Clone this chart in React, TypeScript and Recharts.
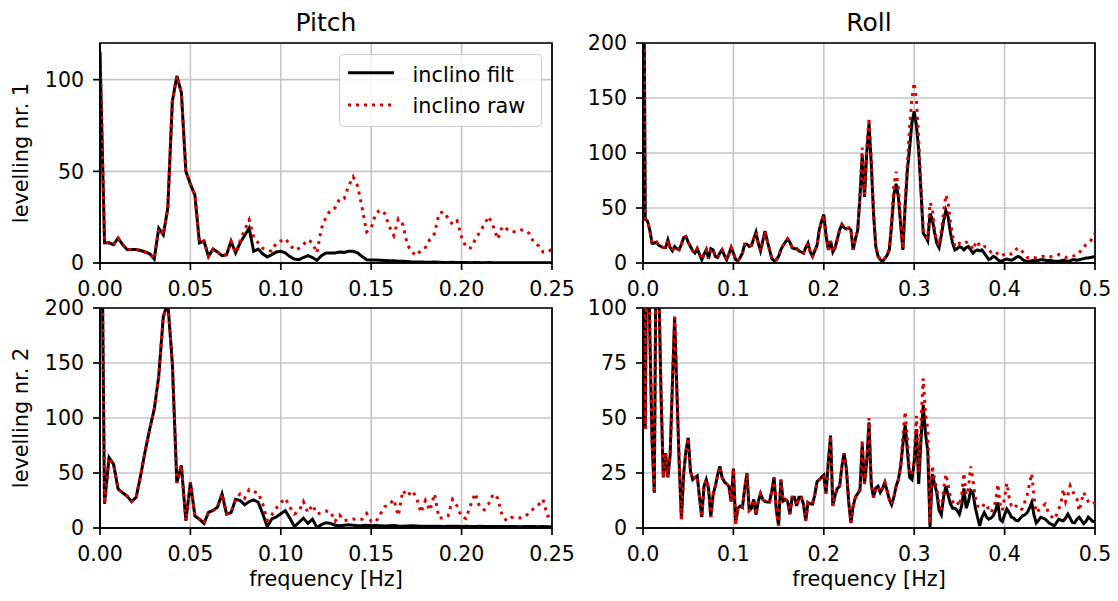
import { useMemo } from 'react';
import { CartesianGrid, Line, LineChart, ReferenceArea, XAxis, YAxis } from 'recharts';

// spectra sampled every DF Hz, value i belongs to f = i * DF
const DF = 0.0025;

// Pitch, levelling nr. 1 (0 .. 0.25 Hz)
const pitch1Filt = [
  115, 11, 11, 10, 13.6, 10, 7.3, 7.3, 7.3, 6.8,
  6, 5, 2.2, 19, 15.4, 30, 88, 102, 93, 50,
  43, 37, 11, 12, 3.6, 7.6, 6, 4, 4.5, 11.8,
  5.5, 11, 15, 19, 6.4, 7.6, 5, 3.3, 4.5, 6,
  6.4, 5.5, 3.5, 2.2, 1.8, 3, 4, 3, 1.5, 4,
  5.5, 5.5, 5.5, 6, 5.8, 6.4, 6.4, 5.5, 3.5, 1.8,
  1.7, 1.6, 1.5, 1.4, 1.2, 1.2, 1, 1, 0.8, 0.6,
  0.5, 0.5, 0.4, 0.4, 0.5, 0.4, 0.3, 0.3, 0.4, 0.3,
  0.3, 0.3, 0.2, 0.3, 0.2, 0.2, 0.3, 0.2, 0.2, 0.2,
  0.2, 0.2, 0.2, 0.1, 0.2, 0.2, 0.1, 0.1, 0.2, 0.1, 0.1,
];
const pitch1Raw = [
  115, 11, 11, 10, 13.6, 10, 7.3, 7.3, 7.3, 6.8,
  6, 5, 2.2, 19, 15.4, 30, 88, 102, 93, 50,
  43, 37, 11, 12, 3.6, 7.6, 6, 4, 4.5, 11.8,
  5.5, 12, 18, 23.6, 14, 11, 8, 7, 6.4, 11,
  12, 13.3, 10, 7, 8, 10, 12.7, 11, 5.5, 19,
  25, 29, 30, 35, 35, 42, 47, 42, 30, 17,
  19, 27, 29, 27, 20, 15, 24, 21, 10, 6,
  4, 7, 8.5, 13, 16, 27, 28, 24.5, 21, 23,
  14, 8.5, 8.2, 12.7, 16.7, 21, 25.4, 20, 13, 20,
  18.5, 17, 17, 18, 18, 16, 11, 9.5, 6, 6, 7.5,
];

// Pitch, levelling nr. 2 (0 .. 0.25 Hz)
const pitch2Filt = [
  450, 22, 64, 58, 35.5, 32, 29, 24, 28, 48,
  70, 90, 108, 138, 192, 205, 150, 41, 57, 6.6,
  41.5, 11, 8, 4.2, 14.2, 16, 19, 31, 12.7, 14,
  26, 25, 21, 24, 25.5, 23.4, 13, 1.2, 8.2, 10,
  13, 15.8, 9, 1.2, 5, 9, 4.2, 8, 0.5, 3,
  4.8, 4.2, 2.5, 2, 2.5, 3, 2.5, 2, 2.2, 2.5,
  2, 2.2, 2, 1.8, 2, 2.2, 1.8, 1.6, 1.8, 2,
  1.8, 1.6, 1.5, 1.7, 1.6, 1.5, 1.4, 1.5, 1.6, 1.5,
  1.4, 1.5, 1.4, 1.3, 1.5, 1.4, 1.3, 1.4, 1.3, 1.4,
  1.3, 1.4, 1.3, 1.2, 1.3, 1.4, 1.3, 1.2, 1.3, 1.2, 1.2,
];
const pitch2Raw = [
  450, 22, 64, 58, 35.5, 32, 29, 24, 28, 48,
  70, 90, 108, 138, 192, 205, 150, 41, 57, 6.6,
  41.5, 11, 8, 4.2, 14.2, 16, 19, 31, 12.7, 14,
  26, 31, 27, 35, 33, 32, 22, 7, 12, 18,
  23, 27, 19, 12.7, 15, 24, 14, 21, 12.7, 14,
  15.5, 15, 6, 11.8, 6.5, 7.5, 8.2, 7.5, 8, 13.3,
  6, 5.5, 12.5, 19.5, 21, 26, 11.2, 34, 29, 34,
  28, 14, 25, 15.8, 31, 9, 9, 11, 26, 20,
  10, 8.5, 21, 31.6, 19, 16.5, 22, 31, 27, 11,
  6.5, 9.6, 9.3, 9.2, 10.2, 14, 18, 21, 26, 11, 11,
];

// Roll, levelling nr. 1 (0 .. 0.5 Hz)
const roll1Filt = [
  420, 40, 38, 30, 18, 18, 19, 16, 15, 14,
  14, 21, 14, 11, 15, 13, 12, 17, 23, 24,
  19, 15, 11, 9, 13, 8, 3, 8, 12, 4,
  13, 12, 6, 5, 9, 12, 7, 3, 8, 14,
  9, 3, 2, 5, 9, 17, 17, 15, 16, 22,
  28, 18, 11, 20, 29, 20, 12, 4, 2, 3,
  6, 12, 16, 19, 22, 19, 14, 13, 13, 11,
  10, 9, 14, 18, 10, 6, 11, 16, 30, 38,
  44, 25, 12, 20, 10, 14, 22, 30, 35, 32,
  31, 32, 30, 12, 22, 30, 60, 98, 60, 100,
  127, 90, 45, 15, 6, 3, 1.5, 4, 7, 12,
  35, 62, 72, 60, 35, 12, 52, 85, 105, 128,
  138, 125, 102, 65, 27, 24, 20, 45, 40, 28,
  18, 14, 25, 38, 48, 42, 28, 18, 12, 13,
  15, 14, 12, 14, 15, 12, 9, 11, 12, 11,
  12, 9, 6, 3, 4, 6, 5, 3, 1.5, 2,
  3, 3.5, 3, 2.5, 3.5, 5, 6, 5, 3, 2,
  1.5, 1.5, 2, 2.5, 2, 2.5, 3, 3, 2.5, 2,
  2.5, 2, 1.5, 1.5, 1.5, 2, 2.5, 2, 1.5, 2,
  3, 3, 2.5, 3, 3.5, 4, 4.5, 4.5, 5, 5.5, 6,
];
const roll1Raw = [
  420, 40, 38, 30, 18, 18, 19, 16, 15, 14,
  14, 21, 14, 11, 15, 13, 12, 17, 23, 24,
  19, 15, 11, 9, 13, 8, 3, 8, 12, 4,
  13, 12, 6, 5, 9, 12, 7, 3, 8, 14,
  9, 3, 2, 5, 9, 17, 17, 15, 16, 22,
  28, 18, 11, 20, 29, 20, 12, 4, 2, 3,
  6, 12, 16, 19, 22, 19, 14, 13, 13, 11,
  10, 9, 14, 18, 10, 6, 11, 16, 30, 38,
  44, 25, 12, 20, 10, 14, 22, 30, 35, 32,
  31, 32, 30, 12, 22, 30, 62, 105, 62, 105,
  132, 95, 48, 16, 7, 3.5, 2, 4.5, 8, 13,
  38, 70, 83, 68, 38, 13, 56, 92, 125, 150,
  164, 148, 112, 70, 30, 26, 22, 55, 50, 30,
  20, 16, 30, 45, 62, 55, 38, 25, 15, 18,
  18, 17, 18, 19, 18, 17, 12, 17, 20, 15,
  14, 15, 14.5, 12, 10, 11, 10.6, 8, 6, 7,
  8, 9, 9, 8, 9, 12, 14, 12, 10, 7,
  5, 4.5, 5, 5, 4.5, 5, 5.5, 6, 5.5, 5,
  5.5, 6, 6.5, 7, 7.6, 7, 6, 5, 5.5, 6,
  6, 6.7, 7, 9, 12, 14, 16.7, 18, 20, 23, 27,
];

// Roll, levelling nr. 2 (0 .. 0.5 Hz)
const roll2Filt = [
  250, 45, 180, 90, 40, 16, 160, 110, 60, 23,
  34, 23, 33, 65, 96, 62, 30, 4, 25, 35,
  41, 26, 22, 23, 23.7, 14, 5, 19, 22, 18,
  5, 15, 19, 24, 28, 23, 21, 20, 19, 12,
  27, 2, 9, 10, 9.4, 18, 25, 8, 9, 13,
  6, 12, 15.6, 13, 12, 11.8, 11.8, 17, 23, 8,
  1, 22, 12.3, 13, 12, 6.3, 14, 14, 10, 14,
  14, 10.9, 3.3, 11.6, 11, 10.9, 15, 21, 22, 23,
  24, 15.6, 30, 42, 10, 15, 18, 19, 28, 34,
  27, 12, 2.3, 10, 14, 15.6, 17, 38, 20, 30,
  48, 20, 13.9, 18, 19, 16.2, 18, 20.7, 17, 13,
  10.6, 14, 19, 22, 28, 38, 47, 35, 23, 22,
  30, 45, 20, 40, 56, 43, 35, 0.5, 24.5, 20,
  16, 8, 6, 14, 19, 15, 11, 9, 9, 8,
  6.3, 10, 18, 9, 12, 17, 16, 9.5, 5, 1,
  5, 7, 5, 4, 4.5, 5.6, 8, 11.6, 4, 3,
  6, 8.6, 7, 5, 4.5, 3.5, 3.3, 4.5, 5.6, 6,
  7, 9, 11.6, 6, 2.3, 3.5, 4.9, 4.5, 4, 3,
  2, 1.5, 1, 2.5, 4, 3.5, 3.3, 4.5, 6.3, 4.5,
  2.5, 2.3, 4, 4.9, 3.5, 2, 3, 4.9, 4, 3, 3,
];
const roll2Raw = [
  250, 45, 180, 90, 40, 16, 160, 110, 60, 23,
  34, 23, 33, 65, 96, 62, 30, 4, 25, 35,
  41, 26, 22, 23, 23.7, 14, 5, 19, 22, 18,
  5, 15, 19, 24, 28, 23, 21, 20, 19, 12,
  27, 2, 9, 10, 9.4, 18, 25, 8, 9, 13,
  6, 12, 15.6, 13, 12, 11.8, 11.8, 17, 23, 8,
  1, 22, 12.3, 13, 12, 6.3, 14, 14, 10, 14,
  14, 10.9, 3.3, 11.6, 11, 10.9, 15, 21, 22, 23,
  24, 15.6, 30, 42, 10, 15, 18, 19, 28, 34,
  27, 12, 2.3, 10, 14, 15.6, 18, 40, 20, 30,
  50, 20, 13.9, 18, 19, 16.2, 18, 20.7, 17, 13,
  10.6, 14, 19, 22, 28, 42, 53, 40, 25, 24,
  32, 51, 25, 48, 68, 52, 45, 2, 28.4, 22,
  18, 10, 9, 17, 24.5, 20, 14, 12, 11, 12,
  10, 15, 25, 15, 18, 28, 22, 14, 10, 9.4,
  9, 11, 10.9, 8, 7, 9, 12, 20, 11, 8,
  14, 20.4, 14, 10, 9, 10, 9.4, 8, 9, 12,
  15, 20, 24.8, 14, 7, 8, 9.4, 10, 10.9, 8,
  6, 5, 4, 6, 8.6, 12, 17.7, 12, 15, 19.2,
  17, 15, 13.3, 7.8, 12, 16.2, 14, 12, 10.9, 11, 11.6,
];

const pitchTicks = [0, 0.05, 0.1, 0.15, 0.2, 0.25];
const rollTicks = [0, 0.1, 0.2, 0.3, 0.4, 0.5];
const yTicks120 = [0, 50, 100];
const yTicks200 = [0, 50, 100, 150, 200];
const yTicks100 = [0, 25, 50, 75, 100];

const FONT = 'DejaVu Sans, sans-serif';
const RED = '#dd0000';
const PLOT_W = 452;
const PLOT_H = 220;
const AXIS_W = 70;
const AXIS_H = 44;
const PAD_T = 20;

const TICK = { fill: '#000', fontSize: 20.5, fontFamily: FONT };
const AXLINE = { stroke: '#000', strokeWidth: 1.7 };

interface PanelProps {
  filt: number[];
  raw: number[];
  xMax: number;
  xTicks: number[];
  xDigits: number;
  yMax: number;
  yTicks: number[];
  left: number;
  top: number;
  padR: number;
}

function Panel({ filt, raw, xMax, xTicks, xDigits, yMax, yTicks, left, top, padR }: PanelProps) {
  const data = useMemo(() => filt.map((v, i) => ({ f: i * DF, filt: v, raw: raw[i] })), [filt, raw]);
  return (
    <div style={{ position: 'absolute', left: left - AXIS_W, top: top - PAD_T }}>
      <LineChart
        width={AXIS_W + PLOT_W + padR}
        height={PAD_T + PLOT_H + AXIS_H}
        data={data}
        margin={{ top: PAD_T, right: padR, bottom: 0, left: 0 }}
      >
        <CartesianGrid stroke="#c6c6c6" strokeWidth={1.6} />
        <XAxis
          dataKey="f"
          type="number"
          domain={[0, xMax]}
          ticks={xTicks}
          interval={0}
          allowDataOverflow
          height={AXIS_H}
          tickSize={7}
          tickMargin={11}
          tick={TICK}
          tickLine={AXLINE}
          axisLine={AXLINE}
          tickFormatter={(v: number) => v.toFixed(xDigits)}
        />
        <YAxis
          type="number"
          domain={[0, yMax]}
          ticks={yTicks}
          interval={0}
          allowDataOverflow
          width={AXIS_W}
          tickSize={7}
          tickMargin={9}
          tick={TICK}
          tickLine={AXLINE}
          axisLine={AXLINE}
        />
        <Line type="linear" dataKey="filt" stroke="#000" strokeWidth={3} dot={false} isAnimationActive={false} />
        <Line
          type="linear"
          dataKey="raw"
          stroke={RED}
          strokeWidth={3}
          strokeDasharray="3 5"
          dot={false}
          isAnimationActive={false}
        />
        <ReferenceArea x1={0} x2={xMax} y1={0} y2={yMax} fill="none" stroke="#000" strokeWidth={1.7} />
      </LineChart>
    </div>
  );
}

function Title({ text, cx }: { text: string; cx: number }) {
  return (
    <div
      style={{
        position: 'absolute', left: cx - 100, top: 7.5, width: 200, textAlign: 'center',
        fontSize: 25, lineHeight: 'normal', fontFamily: FONT, color: '#000',
      }}
    >
      {text}
    </div>
  );
}

function YLabel({ text, cy }: { text: string; cy: number }) {
  return (
    <div
      style={{
        position: 'absolute', left: 21.3 - 150, top: cy - 12, width: 300, height: 24, lineHeight: '24px',
        textAlign: 'center', fontSize: 20.8, fontFamily: FONT, color: '#000',
        transform: 'rotate(-90deg)', transformOrigin: 'center',
      }}
    >
      {text}
    </div>
  );
}

function XLabel({ text, cx }: { text: string; cx: number }) {
  return (
    <div
      style={{
        position: 'absolute', left: cx - 150, top: 566.5, width: 300, textAlign: 'center',
        fontSize: 20.8, lineHeight: 'normal', fontFamily: FONT, color: '#000',
      }}
    >
      {text}
    </div>
  );
}

function LegendBox() {
  return (
    <svg width={206} height={76} style={{ position: 'absolute', left: 339, top: 54 }}>
      <rect x={0.5} y={0.5} width={202} height={72} rx={4} fill="#fff" fillOpacity={0.8} stroke="#cccccc" />
      <line x1={9} x2={55} y1={18.7} y2={18.7} stroke="#000" strokeWidth={3} />
      <line x1={9} x2={55} y1={51} y2={51} stroke={RED} strokeWidth={3} strokeDasharray="3 5" />
      <text x={73.5} y={27.7} fontSize={20.8} fontFamily={FONT} fill="#000">inclino filt</text>
      <text x={73.5} y={59.3} fontSize={20.8} fontFamily={FONT} fill="#000">inclino raw</text>
    </svg>
  );
}

export default function App() {
  return (
    <div style={{ position: 'absolute', left: 0, top: 0, width: 1118, height: 601, background: '#fff', overflow: 'hidden' }}>
      <Panel filt={pitch1Filt} raw={pitch1Raw} xMax={0.25} xTicks={pitchTicks} xDigits={2} yMax={120} yTicks={yTicks120} left={100} top={43} padR={30} />
      <Panel filt={roll1Filt} raw={roll1Raw} xMax={0.5} xTicks={rollTicks} xDigits={1} yMax={200} yTicks={yTicks200} left={643} top={43} padR={20} />
      <Panel filt={pitch2Filt} raw={pitch2Raw} xMax={0.25} xTicks={pitchTicks} xDigits={2} yMax={200} yTicks={yTicks200} left={100} top={308} padR={30} />
      <Panel filt={roll2Filt} raw={roll2Raw} xMax={0.5} xTicks={rollTicks} xDigits={1} yMax={100} yTicks={yTicks100} left={643} top={308} padR={20} />
      <Title text="Pitch" cx={326} />
      <Title text="Roll" cx={869} />
      <YLabel text="levelling nr. 1" cy={153} />
      <YLabel text="levelling nr. 2" cy={418} />
      <XLabel text="frequency [Hz]" cx={326} />
      <XLabel text="frequency [Hz]" cx={869} />
      <LegendBox />
    </div>
  );
}
